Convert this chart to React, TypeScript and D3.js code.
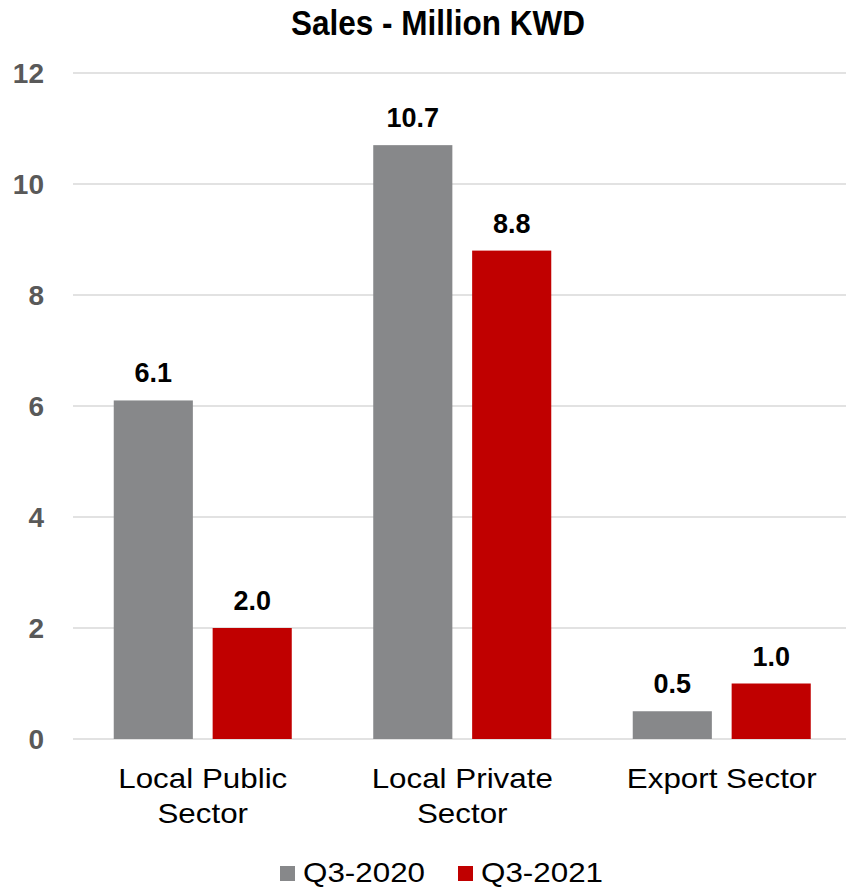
import React from "react";
import * as d3 from "d3";

const categories: string[][] = [["Local Public", "Sector"], ["Local Private", "Sector"], ["Export Sector"]];
const seriesNames = ["Q3-2020", "Q3-2021"];
const q3_2020 = [6.1, 10.7, 0.5];
const q3_2021 = [2.0, 8.8, 1.0];
const yTicks = [0, 2, 4, 6, 8, 10, 12];
const colors = ["#87888A", "#C00000"];

const W = 846;
const H = 887;
const plotLeft = 73;
const gridRight = 846;
const bandRight = 851.5;
const plotTop = 73;
const plotBottom = 739;

export default function App() {
  const series = [q3_2020, q3_2021];
  const x0 = d3.scaleBand<number>().domain(d3.range(categories.length)).range([plotLeft, bandRight]).padding(0);
  const bw = x0.bandwidth();
  const x1 = d3
    .scaleBand<number>()
    .domain(d3.range(seriesNames.length))
    .range([bw * 0.1570, bw * 0.8430])
    .paddingInner(0.2);
  const y = d3.scaleLinear().domain([0, 12]).range([plotBottom, plotTop]);
  const font = "'Liberation Sans', Arial, sans-serif";

  const legendX = [280, 458];

  return (
    <svg width={W} height={H} style={{ position: "absolute", left: 0, top: 0, background: "#fff" }} fontFamily={font}>
      <text
        transform={`translate(438,35) scale(0.9,1)`}
        textAnchor="middle"
        fontWeight="bold"
        fontSize={35}
        fill="#000"
      >
        Sales - Million KWD
      </text>
      {yTicks.map((t) => (
        <g key={t}>
          <line x1={plotLeft} x2={gridRight} y1={y(t)} y2={y(t)} stroke="#D9D9D9" strokeWidth={1.5} />
          <text x={44} y={y(t)} dy="0.36em" textAnchor="end" fontWeight="bold" fontSize={28} fill="#595959">
            {t}
          </text>
        </g>
      ))}
      {categories.map((cat, i) => (
        <g key={i} transform={`translate(${x0(i)},0)`}>
          {series.map((s, j) => (
            <g key={j}>
              <rect
                x={x1(j)}
                y={y(s[i])}
                width={x1.bandwidth()}
                height={y(0) - y(s[i])}
                fill={colors[j]}
              />
              <text
                x={(x1(j) as number) + x1.bandwidth() / 2}
                y={y(s[i]) - 18}
                textAnchor="middle"
                fontWeight="bold"
                fontSize={27}
                fill="#000"
              >
                {s[i].toFixed(1)}
              </text>
            </g>
          ))}
          {cat.map((line, k) => (
            <text
              key={k}
              transform={`translate(${bw / 2},${788 + k * 35}) scale(1.12,1)`}
              textAnchor="middle"
              fontSize={28}
              fill="#000"
            >
              {line}
            </text>
          ))}
        </g>
      ))}
      {seriesNames.map((name, j) => (
        <g key={name}>
          <rect x={legendX[j]} y={866} width={15} height={15} fill={colors[j]} />
          <text transform={`translate(${legendX[j] + 23},882) scale(1.12,1)`} fontSize={28} fill="#000">
            {name}
          </text>
        </g>
      ))}
    </svg>
  );
}
